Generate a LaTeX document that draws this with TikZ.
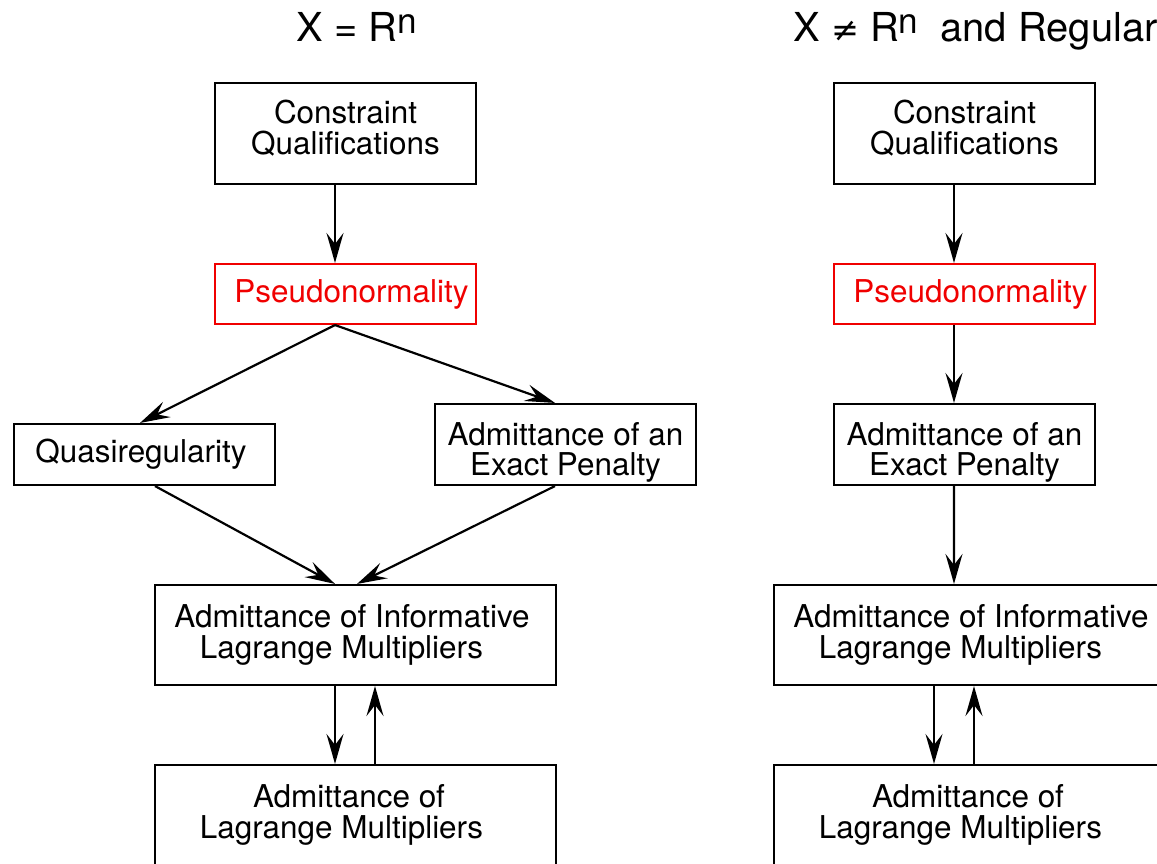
\documentclass[tikz,border=0pt]{standalone}
\usepackage{fontspec}
\setmainfont{TeX Gyre Heros}
\newfontfamily\symfont{DejaVu Sans}
\usetikzlibrary{arrows.meta,positioning}
\definecolor{pnred}{RGB}{240,0,0}

\begin{document}
\begin{tikzpicture}[x=0.02cm,y=-0.02cm,
  box/.style={draw,line width=1.2pt,minimum width=5.22cm,minimum height=2.02cm,
    align=center,inner sep=0pt,font=\fontsize{17.9}{17.2}\selectfont},
  redbox/.style={box,draw=pnred,text=pnred,minimum height=1.2cm},
  widebox/.style={box,minimum width=8.02cm,minimum height=2cm},
  title/.style={anchor=base west,inner sep=0pt,font=\fontsize{22.7}{24}\selectfont},
  arr/.style={line width=1.25pt,-{Stealth[length=6mm,width=3.4mm,inset=2.2mm]}}
]
  \useasboundingbox (0,0) rectangle (1157,864);

  % Titles
  \node[title] (t1) at (296,42) {X = R\raisebox{0.22em}{\fontsize{20}{20}\selectfont n}};
  \node[title] (t2) at (793,42) {X {\symfont\fontsize{19}{19}\selectfont ≠} R\raisebox{0.22em}{\fontsize{20}{20}\selectfont n}\ \ and Regular};

  % Left column
  \node[box,text depth=0.25cm] (cq1) at (345.5,133.5) {Constraint\\Qualifications};
  \node[redbox] (pn1) at (345.5,294) {\hspace*{0.24cm}Pseudonormality};
  \node[box,minimum height=1.22cm] (qr1) at (144.5,454.5) {Quasiregularity\hspace*{0.14cm}};
  \node[box,minimum height=1.62cm,text height=1.38cm] (ep1) at (565.5,444.5) {Admittance of an\\Exact Penalty};
  \node[widebox] (ilm1) at (355.5,635) {Admittance of Informative\hspace*{0.14cm}\\\hspace*{-0.56cm}Lagrange Multipliers};
  \node[widebox] (lm1) at (355.5,815) {\hspace*{-0.26cm}Admittance of\\\hspace*{-0.56cm}Lagrange Multipliers};

  % Right column
  \node[box,text depth=0.25cm] (cq2) at (964.5,133.5) {Constraint\\Qualifications};
  \node[redbox] (pn2) at (964.5,294) {\hspace*{0.24cm}Pseudonormality};
  \node[box,minimum height=1.62cm,text height=1.38cm] (ep2) at (964.5,444.5) {Admittance of an\\Exact Penalty};
  \node[widebox] (ilm2) at (974.5,635) {Admittance of Informative\hspace*{0.14cm}\\\hspace*{-0.56cm}Lagrange Multipliers};
  \node[widebox] (lm2) at (974.5,815) {\hspace*{-0.26cm}Admittance of\\\hspace*{-0.56cm}Lagrange Multipliers};

  % Arrows left
  \draw[arr] ([xshift=-0.21cm]cq1.south) -- ([xshift=-0.21cm]pn1.north);
  \draw[arr] ([xshift=-0.21cm]pn1.south) -- ([xshift=-0.09cm]qr1.north);
  \draw[arr] ([xshift=-0.21cm]pn1.south) -- ([xshift=-0.21cm]ep1.north);
  \draw[arr] ([xshift=0.21cm]qr1.south) -- ([xshift=-0.41cm]ilm1.north);
  \draw[arr] ([xshift=-0.21cm]ep1.south) -- ([xshift=0.03cm]ilm1.north);
  \draw[arr] ([xshift=-0.41cm]ilm1.south) -- ([xshift=-0.41cm]lm1.north);
  \draw[arr] ([xshift=0.39cm]lm1.north) -- ([xshift=0.39cm]ilm1.south);

  % Arrows right
  \draw[arr] ([xshift=-0.21cm]cq2.south) -- ([xshift=-0.21cm]pn2.north);
  \draw[arr] ([xshift=-0.21cm]pn2.south) -- ([xshift=-0.21cm]ep2.north);
  \draw[arr] ([xshift=-0.21cm]ep2.south) -- ([xshift=-0.41cm]ilm2.north);
  \draw[arr] ([xshift=-0.81cm]ilm2.south) -- ([xshift=-0.81cm]lm2.north);
  \draw[arr] ([xshift=-0.01cm]lm2.north) -- ([xshift=-0.01cm]ilm2.south);
\end{tikzpicture}
\end{document}
